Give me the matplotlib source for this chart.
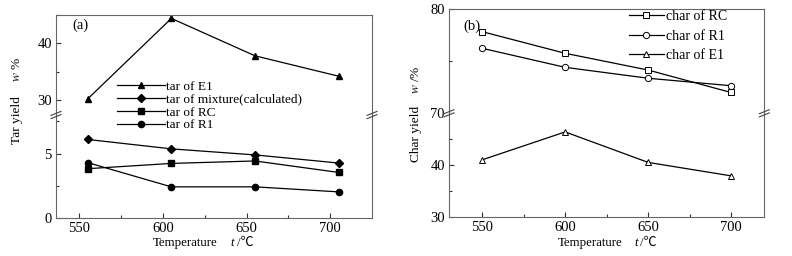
import matplotlib
matplotlib.use('Agg')
import matplotlib.pyplot as plt
from matplotlib.lines import Line2D
from matplotlib.ticker import FixedLocator

FAM = ['Liberation Serif', 'Noto Sans CJK SC', 'DejaVu Sans']
plt.rcParams['font.family'] = FAM
plt.rcParams['mathtext.fontset'] = 'stix'

# ---- data ----
temps_a = [555, 605, 655, 705]
tar_e1 = [30.2, 44.4, 37.8, 34.2]
tar_mix = [6.1, 5.37, 4.9, 4.27]
tar_rc = [3.83, 4.24, 4.43, 3.54]
tar_r1 = [4.3, 2.42, 2.42, 2.03]

temps_b = [550, 600, 650, 700]
char_rc = [77.85, 75.77, 74.16, 72.0]
char_r1 = [76.25, 74.42, 73.37, 72.65]
char_e1 = [41.0, 46.4, 40.5, 37.9]

labels_a = ['tar of E1', 'tar of mixture(calculated)', 'tar of RC', 'tar of R1']
labels_b = ['char of RC', 'char of R1', 'char of E1']

W, H = 792, 256
fig = plt.figure(figsize=(W / 100, H / 100), dpi=100)


def fx(px):
    return px / W


def fy(py):
    return 1 - py / H


TICKFS = 10.5
LABFS = 9.3
LW = 0.9


def style_axis(ax):
    for s in ax.spines.values():
        s.set_linewidth(0.8)
        s.set_color('#666666')
    ax.tick_params(direction='in', length=3.5, width=0.8, labelsize=TICKFS,
                   top=False, right=False, color='#333333', pad=3)
    ax.tick_params(which='minor', direction='in', length=2.5, width=0.8,
                   top=False, right=False, color='#333333')


def make_panel(left, right, top, brk, bottom, xlim, ylim_u, ylim_l,
               yt_u, ym_u, yt_l, ym_l):
    ax_u = fig.add_axes([fx(left), fy(brk), fx(right) - fx(left), fy(top) - fy(brk)])
    ax_l = fig.add_axes([fx(left), fy(bottom), fx(right) - fx(left), fy(brk) - fy(bottom)])
    for ax in (ax_u, ax_l):
        style_axis(ax)
        ax.set_xlim(*xlim)
        ax.xaxis.set_major_locator(FixedLocator([550, 600, 650, 700]))
        ax.xaxis.set_minor_locator(FixedLocator([575, 625, 675]))
    ax_u.set_ylim(*ylim_u)
    ax_l.set_ylim(*ylim_l)
    ax_u.yaxis.set_major_locator(FixedLocator(yt_u))
    ax_u.yaxis.set_minor_locator(FixedLocator(ym_u))
    ax_l.yaxis.set_major_locator(FixedLocator(yt_l))
    ax_l.yaxis.set_minor_locator(FixedLocator(ym_l))
    ax_u.spines['bottom'].set_visible(False)
    ax_l.spines['top'].set_visible(False)
    ax_u.tick_params(which='both', bottom=False, labelbottom=False)
    # break marks
    for xp in (left, right):
        for dy in (-1.6, 1.6):
            fig.add_artist(Line2D([fx(xp - 5), fx(xp + 5)],
                                  [fy(brk + dy + 2), fy(brk + dy - 2)],
                                  transform=fig.transFigure, color='#444444', lw=0.8))
    return ax_u, ax_l


def xlabel(x0, xt, xd, y):
    fig.text(fx(x0), fy(y), 'Temperature', ha='left', va='center', fontsize=LABFS)
    fig.text(fx(xt), fy(y), 't', ha='left', va='center', fontsize=LABFS, style='italic')
    fig.text(fx(xd), fy(y), '/\u2103', ha='left', va='center', fontsize=LABFS)


def ylabel(x, y_name, y_unit, name, unit):
    fig.text(fx(x), fy(y_name), name, rotation=90, ha='center', va='center', fontsize=9.6)
    fig.text(fx(x), fy(y_unit), unit, rotation=90, ha='center', va='center', fontsize=9.6)


# ---- panel (a) ----
au, al = make_panel(56, 372, 15, 115, 218, (536, 725), (27.35, 45), (0, 8),
                    [30, 40], [35, 45], [0, 5], [2.5, 7.5])
kw = dict(color='black', lw=LW, ms=4.5)
h1, = au.plot(temps_a, tar_e1, marker='^', **kw)
h2, = al.plot(temps_a, tar_mix, marker='D', **dict(kw, ms=3.8))
h3, = al.plot(temps_a, tar_rc, marker='s', **dict(kw, ms=4))
h4, = al.plot(temps_a, tar_r1, marker='o', **kw)
fig.text(fx(80), fy(25), '(a)', ha='center', va='center', fontsize=10.5)
fig.legend([h1, h2, h3, h4], labels_a, loc='center left',
           bbox_to_anchor=(fx(117), fy(106)), frameon=False, borderpad=0,
           borderaxespad=0, handlelength=3.6, handletextpad=0.1,
           labelspacing=0.05, fontsize=9.5, numpoints=1)
ylabel(17, 120, 69, 'Tar yield', '$w$ %')
xlabel(153, 230, 237, 243)

# ---- panel (b) ----
bu, bl = make_panel(449, 764.3, 9.3, 113.3, 216.7, (530, 720), (70, 80), (30, 50),
                    [70, 80], [75], [30, 40], [35, 45])
okw = dict(color='black', lw=LW, mfc='white', mec='black', mew=0.7, ms=4.5)
g1, = bu.plot(temps_b, char_rc, marker='s', **okw)
g2, = bu.plot(temps_b, char_r1, marker='o', **okw)
g3, = bl.plot(temps_b, char_e1, marker='^', **okw)
fig.text(fx(472), fy(26), '(b)', ha='center', va='center', fontsize=10.5)
fig.legend([g1, g2, g3], labels_b, loc='center left',
           bbox_to_anchor=(fx(629), fy(36)), frameon=False, borderpad=0,
           borderaxespad=0, handlelength=2.5, handletextpad=0.15,
           labelspacing=0.45, fontsize=10, numpoints=1)
ylabel(416.5, 134, 80, 'Char yield', '$w$ /%')
xlabel(558, 634, 640, 243)

fig.savefig('out.png', dpi=100)
